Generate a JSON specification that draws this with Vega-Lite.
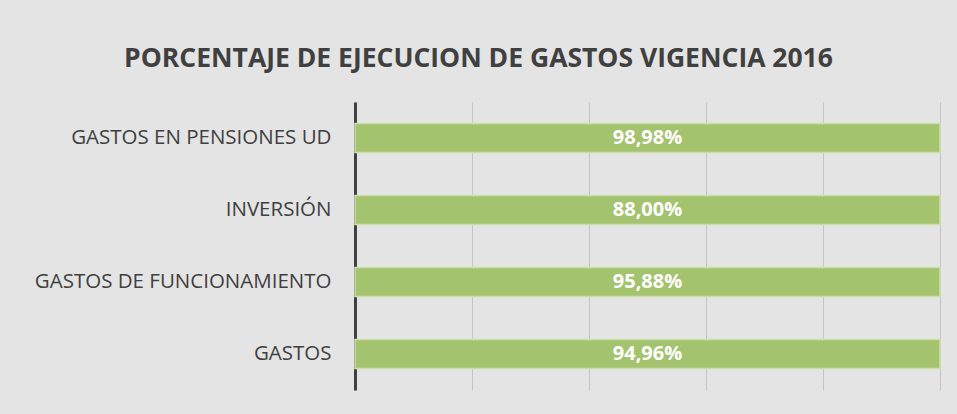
{
  "$schema": "https://vega.github.io/schema/vega-lite/v6.json",
  "autosize": "none",
  "width": 585,
  "height": 288,
  "padding": {"left": 355, "top": 102, "right": 17, "bottom": 24},
  "background": "#e4e4e4",
  "config": {
    "locale": {"number": {"decimal": ",", "thousands": ".", "grouping": [3], "currency": ["$", ""]}},
    "view": {"stroke": null},
    "font": "Open Sans"
  },
  "title": {
    "text": "PORCENTAJE DE EJECUCION DE GASTOS VIGENCIA 2016",
    "fontSize": 26.5,
    "fontWeight": "bold",
    "color": "#404040",
    "font": "Open Sans",
    "anchor": "middle",
    "dx": -169,
    "offset": 30
  },
  "data": {
    "values": [
      {"rubro": "GASTOS EN PENSIONES UD", "ejecucion": 0.9898},
      {"rubro": "INVERSIÓN", "ejecucion": 0.88},
      {"rubro": "GASTOS DE FUNCIONAMIENTO", "ejecucion": 0.9588},
      {"rubro": "GASTOS", "ejecucion": 0.9496}
    ]
  },
  "encoding": {
    "y": {
      "field": "rubro",
      "type": "nominal",
      "sort": null,
      "scale": {"paddingInner": 0.6, "paddingOuter": 0.3},
      "axis": {
        "title": null,
        "domainColor": "#404040",
        "domainWidth": 3,
        "ticks": false,
        "labelPadding": 24,
        "labelFontSize": 20.5,
        "labelLimit": 0,
        "labelColor": "#404040",
        "labelFont": "Open Sans"
      }
    }
  },
  "layer": [
    {
      "mark": {"type": "bar", "color": "#a4c36e", "stroke": "#cadfa9", "strokeWidth": 1.5},
      "encoding": {
        "x": {
          "field": "ejecucion",
          "type": "quantitative",
          "stack": "normalize",
          "scale": {"domain": [0, 1]},
          "axis": {
            "title": null,
            "labels": false,
            "ticks": false,
            "domain": false,
            "values": [0, 0.2, 0.4, 0.6, 0.8, 1],
            "gridColor": "#c4c4c4",
            "gridWidth": 1
          }
        }
      }
    },
    {
      "mark": {"type": "text", "color": "white", "fontWeight": "bold", "fontSize": 20, "font": "Open Sans"},
      "encoding": {
        "x": {"datum": 0.5, "type": "quantitative"},
        "text": {"field": "ejecucion", "type": "quantitative", "format": ".2%"}
      }
    }
  ]
}
